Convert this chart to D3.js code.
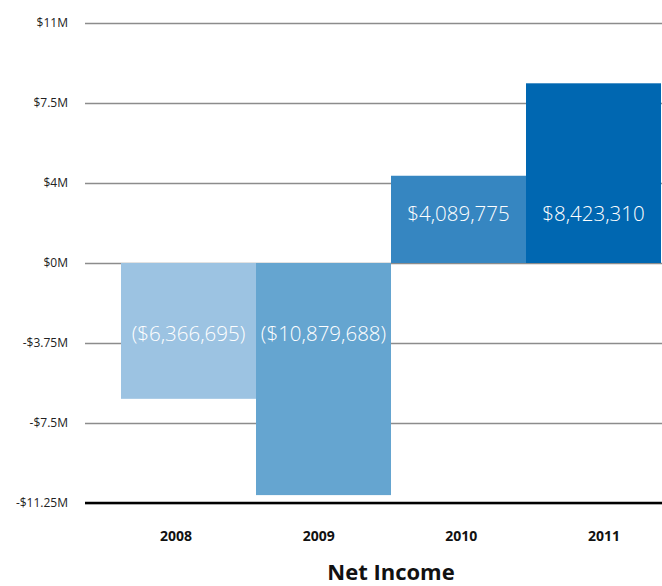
<!DOCTYPE html>
<html>
<head>
<meta charset="utf-8">
<script src="https://cdn.jsdelivr.net/npm/d3@7"></script>
<style>
  body { margin: 0; background: #fff; }
  text { font-family: "Open Sans", "DejaVu Sans", sans-serif; }
</style>
</head>
<body>
<div id="chart"></div>
<script>
// data
var years = ["2008", "2009", "2010", "2011"];
var netIncome = [-6366695, -10879688, 4089775, 8423310];
var valueLabels = ["($6,366,695)", "($10,879,688)", "$4,089,775", "$8,423,310"];
var barColors = ["#9cc3e2", "#65a5d0", "#3686c1", "#0067b1"];
var tickValues = [-11.25e6, -7.5e6, -3.75e6, 0, 3.75e6, 7.5e6, 11.25e6];
var tickLabels = ["-$11.25M", "-$7.5M", "-$3.75M", "$0M", "$4M", "$7.5M", "$11M"];

var width = 662, height = 586;

var svg = d3.select("#chart").append("svg")
    .attr("width", width)
    .attr("height", height);

// scales
var y = d3.scaleLinear()
    .domain([-11.25e6, 11.25e6])
    .range([503, 23]);

var x = d3.scaleBand()
    .domain(years)
    .range([121, 661])
    .padding(0);

// category labels sit a bit left of the bars
var xLab = d3.scalePoint()
    .domain(years)
    .range([176, 604]);

// gridlines + tick labels
var yAxis = d3.axisLeft(y)
    .tickValues(tickValues)
    .tickSize(-(width - 85))
    .tickPadding(17)
    .tickFormat(function(d, i) { return tickLabels[i]; });

var gy = svg.append("g")
    .attr("transform", "translate(85,0)")
    .call(yAxis);
gy.select(".domain").remove();
gy.selectAll(".tick line")
    .attr("stroke", "#8c8c8c")
    .attr("stroke-width", 1.5);
gy.selectAll(".tick text")
    .attr("fill", "#222")
    .style("font-size", "12px");

// bars
svg.selectAll("rect.bar")
    .data(netIncome)
    .enter()
    .append("rect")
    .attr("class", "bar")
    .attr("x", function(d, i) { return x(years[i]); })
    .attr("width", x.bandwidth())
    .attr("y", function(d) { return y(Math.max(0, d)); })
    .attr("height", function(d) { return Math.abs(y(d) - y(0)); })
    .attr("fill", function(d, i) { return barColors[i]; });

// value labels inside bars
svg.selectAll("text.val")
    .data(netIncome)
    .enter()
    .append("text")
    .attr("class", "val")
    .attr("x", function(d, i) { return x(years[i]) + x.bandwidth() / 2; })
    .attr("y", function(d) { return d >= 0 ? y(0) - 42 : y(0) + 78; })
    .attr("text-anchor", "middle")
    .attr("fill", "#fff")
    .style("font-size", "20.5px")
    .style("font-weight", 300)
    .text(function(d, i) { return valueLabels[i]; });

// baseline
svg.append("line")
    .attr("x1", 85).attr("x2", width)
    .attr("y1", y(-11.25e6)).attr("y2", y(-11.25e6))
    .attr("stroke", "#000")
    .attr("stroke-width", 2.5);

// category labels
svg.selectAll("text.yr")
    .data(years)
    .enter()
    .append("text")
    .attr("class", "yr")
    .attr("x", function(d) { return xLab(d); })
    .attr("y", 541)
    .attr("text-anchor", "middle")
    .attr("fill", "#111")
    .style("font-size", "14px")
    .style("font-weight", "bold")
    .text(function(d) { return d; });

// title
svg.append("text")
    .attr("x", 391)
    .attr("y", 580)
    .attr("text-anchor", "middle")
    .attr("fill", "#111")
    .style("font-size", "22px")
    .style("font-weight", "bold")
    .text("Net Income");
</script>
</body>
</html>
